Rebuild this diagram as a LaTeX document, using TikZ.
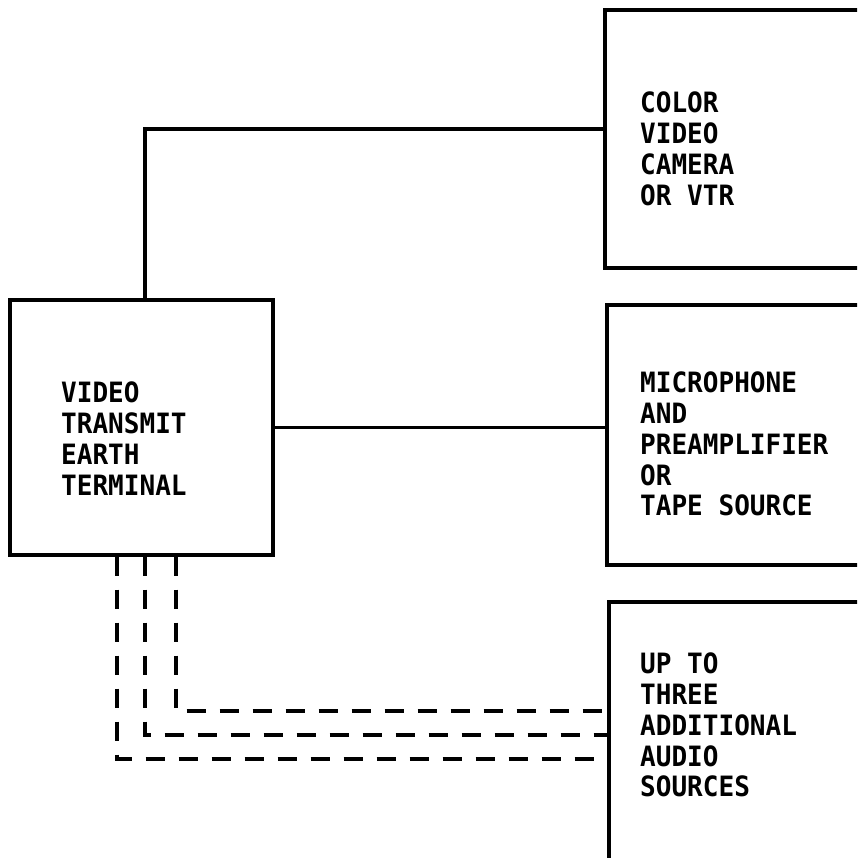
\documentclass[tikz,border=0pt]{standalone}
\usepackage{fontspec}
\newfontfamily\typewr[FakeStretch=0.93]{DejaVu Sans Mono Bold}
\begin{document}
\begin{tikzpicture}[x=1pt,y=1pt,
  blockbox/.style={draw, line width=3.4pt, rectangle, inner sep=0pt},
  blocklabel/.style={anchor=north west, inner sep=0pt, align=left,
    font={\typewr\fontsize{28}{30.7}\selectfont}},
  wire/.style={line width=3.2pt},
  dwire/.style={line width=3.6pt, dash pattern=on 19pt off 14pt}]
\useasboundingbox (0,0) rectangle (857,-858);
\clip (0,0) rectangle (857,-858);
% boxes
\node[blockbox, minimum width=275pt, minimum height=258pt] (cam) at (742.5,-139) {};
\node[blockbox, minimum width=263pt, minimum height=255pt] (vte) at (141.5,-427.5) {};
\node[blockbox, minimum width=275pt, minimum height=260pt] (mic) at (744.5,-435) {};
\node[blockbox, minimum width=275pt, minimum height=300pt] (aud) at (746.5,-752) {};
% labels
\node[blocklabel] (camtxt) at (640,-92) {COLOR\\VIDEO\\CAMERA\\OR VTR};
\node[blocklabel] (vtetxt) at (61,-382) {VIDEO\\TRANSMIT\\EARTH\\TERMINAL};
\node[blocklabel] (mictxt) at (640,-372) {MICROPHONE\\AND\\PREAMPLIFIER\\OR\\TAPE SOURCE};
\node[blocklabel] (audtxt) at (640,-653) {UP TO\\THREE\\ADDITIONAL\\AUDIO\\SOURCES};
% connector coordinates
\coordinate (camin) at (cam.west |- 0,-129);
\coordinate (vtetop) at (145,0 |- vte.north);
\coordinate (d1) at (117,0 |- vte.south);
\coordinate (d2) at (145,0 |- vte.south);
\coordinate (d3) at (176,0 |- vte.south);
\coordinate (a1) at (aud.west |- 0,-759);
\coordinate (a2) at (aud.west |- 0,-735);
\coordinate (a3) at (aud.west |- 0,-711);
% solid connectors
\draw[wire] (camin) -| (vtetop);
\draw[wire] (vte.east) -- (vte.east -| mic.west);
% dashed connectors
\draw[dwire] (d3) |- (a3);
\draw[dwire] (d2) |- (a2);
\draw[dwire] (d1) |- (a1);
\end{tikzpicture}
\end{document}
